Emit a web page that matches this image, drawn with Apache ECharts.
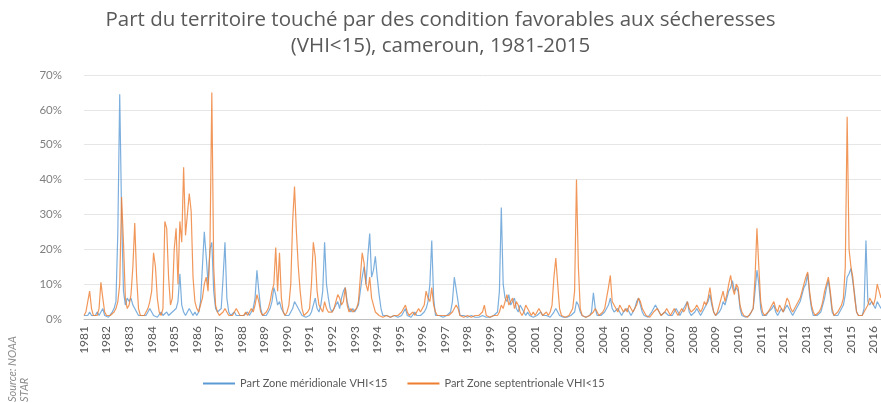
<!DOCTYPE html>
<html>
<head>
<meta charset="utf-8">
<script src="https://cdn.jsdelivr.net/npm/echarts@6/dist/echarts.min.js"></script>
<style>
  html, body { margin: 0; padding: 0; background: #fff; }
  #chart { width: 881px; height: 403px; }
</style>
</head>
<body>
<div id="chart"></div>
<script>
// annees affichees sur l'axe (un mois par categorie, jan 1981 -> mai 2016)
const years = [1981, 1982, 1983, 1984, 1985, 1986, 1987, 1988, 1989, 1990, 1991, 1992,
  1993, 1994, 1995, 1996, 1997, 1998, 1999, 2000, 2001, 2002, 2003, 2004, 2005, 2006,
  2007, 2008, 2009, 2010, 2011, 2012, 2013, 2014, 2015, 2016];
const lastYearMonths = 5;

const yTicks = [0, 10, 20, 30, 40, 50, 60, 70];

// Part Zone meridionale VHI<15 (%), valeurs mensuelles
const meridionale = [
  1, 0.5, 1, 2, 1, 0.5, 1, 2, 1, 2, 3, 1,           // 1981
  1, 0.5, 1, 2, 3, 5, 25, 64.5, 30, 8, 4, 6,        // 1982
  5, 6, 4, 3, 2, 1, 0.5, 1, 0.5, 1, 2, 3,           // 1983
  2, 1, 1, 0.5, 1, 2, 1, 1, 2, 1, 1, 2,             // 1984
  2, 3, 5, 13, 4, 2, 1, 2, 3, 2, 1, 2,              // 1985
  1, 2, 5, 15, 25, 18, 10, 20, 22, 8, 3, 2,         // 1986
  2, 3, 12, 22, 6, 2, 1, 1, 2, 1, 0.5, 1,           // 1987
  0.5, 1, 1, 2, 1, 2, 3, 6, 14, 8, 3, 1,            // 1988
  1, 1, 2, 3, 5, 9, 7, 4, 5, 3, 2, 1,               // 1989
  1, 1, 2, 3, 5, 4, 3, 2, 1, 1, 0.5, 1,             // 1990
  1, 2, 4, 6, 3, 2, 4, 8, 22, 10, 6, 3,             // 1991
  2, 3, 4, 5, 3, 6, 8, 9, 5, 3, 2, 3,               // 1992
  2, 2, 4, 8, 12, 15, 10, 18, 24.5, 12, 14, 18,     // 1993
  12, 7, 3, 1, 0.5, 1, 1, 0.5, 0.5, 1, 1, 0.5,      // 1994
  0.5, 1, 2, 3, 1, 1, 0.5, 1, 2, 1, 1, 1,           // 1995
  1, 2, 3, 5, 10, 22.5, 6, 1, 0.5, 1, 0.5, 0.5,     // 1996
  0.5, 1, 1, 2, 5, 12, 12.5, 5, 1, 0.5, 1, 0.5,     // 1997
  0.5, 0.5, 1, 0.5, 0.5, 1, 0.5, 0.5, 1, 1, 0.5, 0.5, // 1998
  0.5, 0.5, 1, 1, 2, 8, 32, 10, 6, 5, 7, 4,         // 1999
  5, 6, 3, 2, 4, 3, 2, 1, 2, 1, 1, 0.5,             // 2000
  0.5, 1, 1, 2, 1, 0.5, 1, 1, 0.5, 1, 2, 3,         // 2001
  2, 1, 0.5, 0.5, 1, 0.5, 0.5, 1, 1, 2, 5, 4,       // 2002
  2, 1, 0.5, 0.5, 1, 1, 2, 7.5, 3, 1, 0.5, 1,       // 2003
  1, 2, 3, 4, 6, 3, 2, 2, 3, 2, 1, 2,               // 2004
  2, 3, 2, 1, 2, 3, 5, 6, 4, 2, 1, 1,               // 2005
  0.5, 1, 2, 3, 4, 3, 2, 1, 1, 2, 2, 1,             // 2006
  1, 1, 2, 3, 2, 1, 2, 3, 4, 5, 2, 1,               // 2007
  1, 2, 3, 2, 1, 2, 3, 4, 5, 7, 4, 2,               // 2008
  1, 1, 2, 3, 5, 4, 6, 8, 9, 11, 8, 9,              // 2009
  8, 3, 1, 1, 0.5, 1, 1, 2, 3, 8, 14, 10,           // 2010
  3, 1, 0.5, 1, 2, 2, 3, 4, 2, 1, 2, 3,             // 2011
  2, 3, 4, 3, 2, 1, 2, 3, 4, 5, 7, 9,               // 2012
  10, 13, 7, 3, 1, 0.5, 1, 1, 2, 4, 6, 9,           // 2013
  11, 7, 2, 1, 0.5, 1, 2, 3, 4, 7, 12, 13,          // 2014
  14.5, 14, 7, 2, 1, 0.5, 1, 3, 22.5, 5, 4, 5,      // 2015
  4, 3, 5, 4, 3                                     // 2016
];

// Part Zone septentrionale VHI<15 (%), valeurs mensuelles
const septentrionale = [
  1, 2, 5, 8, 3, 1, 0.5, 1, 3, 10.5, 6, 2,          // 1981
  1, 0.5, 1, 1, 2, 3, 5, 10, 35, 22, 6, 3,          // 1982
  4, 7, 15, 27.5, 12, 3, 1, 0.5, 1, 2, 3, 5,        // 1983
  8, 19, 15, 6, 2, 1, 3, 28, 26, 12, 4, 6,          // 1984
  20, 26, 10, 28, 22, 43.5, 24, 30, 36, 31, 12, 5,  // 1985
  3, 2, 4, 6, 10, 12, 8, 20, 65, 15, 4, 2,          // 1986
  1, 1, 2, 3, 2, 1, 0.5, 1, 2, 3, 2, 1,             // 1987
  1, 1, 2, 1, 2, 3, 2, 4, 7, 5, 2, 1,               // 1988
  1, 2, 3, 5, 8, 10, 20.5, 8, 19, 6, 2, 1,          // 1989
  2, 4, 10, 28, 38, 25, 15, 8, 3, 1, 1, 2,          // 1990
  3, 10, 22, 18, 8, 4, 3, 2, 5, 3, 2, 2,            // 1991
  2, 3, 5, 7, 6, 4, 5, 9, 4, 2, 3, 2,               // 1992
  2, 3, 5, 12, 19, 16, 10, 8, 12, 6, 4, 2,          // 1993
  2, 1, 1, 0.5, 0.5, 1, 1, 0.5, 1, 1, 0.5, 1,       // 1994
  1, 2, 3, 4, 2, 1, 1, 2, 1, 2, 3, 2,               // 1995
  2, 4, 8, 6, 5, 9, 4, 2, 1, 1, 1, 1,               // 1996
  1, 0.5, 1, 1, 2, 3, 4, 3, 1, 1, 0.5, 1,           // 1997
  1, 0.5, 0.5, 1, 1, 0.5, 1, 1, 2, 4, 1, 0.5,       // 1998
  0.5, 0.5, 1, 0.5, 1, 2, 4, 3, 5, 7, 4, 5,         // 1999
  6, 3, 5, 4, 2, 1, 2, 4, 3, 2, 1, 2,               // 2000
  1, 2, 3, 2, 1, 1, 2, 1, 2, 4, 12, 17.5,           // 2001
  10, 3, 1, 1, 0.5, 1, 1, 2, 3, 8, 40, 15,          // 2002
  3, 1, 0.5, 0.5, 1, 1, 1, 2, 3, 2, 1, 1,           // 2003
  2, 3, 6, 9, 12.5, 5, 4, 3, 2, 4, 3, 2,            // 2004
  3, 2, 4, 3, 2, 3, 4, 6, 5, 3, 2, 1,               // 2005
  1, 0.5, 1, 2, 2, 3, 2, 1, 1, 2, 3, 2,             // 2006
  1, 2, 3, 2, 1, 2, 3, 2, 3, 5, 3, 2,               // 2007
  2, 3, 4, 3, 2, 3, 5, 4, 6, 9, 5, 2,               // 2008
  1, 2, 4, 6, 8, 5, 7, 10, 12.5, 9, 7, 10,          // 2009
  9, 4, 2, 1, 1, 0.5, 1, 2, 3, 12, 26, 15,          // 2010
  5, 2, 1, 1, 2, 3, 4, 5, 3, 2, 4, 3,               // 2011
  2, 4, 6, 5, 3, 2, 3, 4, 5, 6, 8, 10,              // 2012
  12, 13.5, 8, 4, 2, 1, 1, 2, 3, 5, 8, 10,          // 2013
  12, 8, 3, 1, 1, 2, 3, 4, 6, 15, 58, 20,           // 2014
  15, 12, 6, 2, 1, 0.5, 1, 2, 3, 4, 6, 5,           // 2015
  4, 6, 10, 8, 6                                    // 2016
];

// categories mois par mois construites a partir des annees
const months = [];
years.forEach((y, k) => {
  const n = k === years.length - 1 ? lastYearMonths : 12;
  for (let m = 1; m <= n; m++) months.push(y + '-' + (m < 10 ? '0' + m : m));
});

const blue = '#5B9BD5';
const orange = '#ED7D31';

const chart = echarts.init(document.getElementById('chart'));

const option = {
  animation: false,
  backgroundColor: '#fff',
  color: [blue, orange],
  title: {
    text: 'Part du territoire touché par des condition favorables aux sécheresses\n(VHI<15), cameroun, 1981-2015',
    left: 'center',
    top: 2,
    textStyle: {
      fontFamily: 'Open Sans',
      fontSize: 20.5,
      fontWeight: 'normal',
      color: '#595959',
      lineHeight: 26
    }
  },
  legend: {
    bottom: 9,
    left: 198,
    itemGap: 20,
    itemWidth: 32,
    itemHeight: 2,
    textStyle: { fontFamily: 'Lato', fontSize: 11, color: '#595959' },
    data: [
      { name: 'Part Zone méridionale VHI<15', icon: 'rect', itemStyle: { color: blue } },
      { name: 'Part Zone septentrionale VHI<15', icon: 'rect', itemStyle: { color: orange } }
    ]
  },
  grid: { left: 84, right: 0, top: 75, bottom: 84 },
  xAxis: {
    type: 'category',
    boundaryGap: false,
    data: months,
    axisLine: { lineStyle: { color: '#bfbfbf' } },
    axisTick: { show: false },
    axisLabel: {
      rotate: 90,
      interval: (idx) => idx % 12 === 0,
      formatter: (v) => v.slice(0, 4),
      fontFamily: 'Lato',
      fontSize: 12,
      color: '#595959',
      margin: 7
    },
    splitLine: { show: false }
  },
  yAxis: {
    type: 'value',
    min: 0,
    max: yTicks[yTicks.length - 1],
    interval: 10,
    axisLine: { show: false },
    axisTick: { show: false },
    axisLabel: {
      formatter: '{value}%',
      fontFamily: 'Lato',
      fontSize: 11.5,
      color: '#7f7f7f',
      margin: 22
    },
    splitLine: { lineStyle: { color: '#e6e6e6' } }
  },
  series: [
    {
      name: 'Part Zone méridionale VHI<15',
      type: 'line',
      data: meridionale,
      showSymbol: false,
      itemStyle: { color: blue },
      lineStyle: { color: blue, width: 1.2, opacity: 0.8 }
    },
    {
      name: 'Part Zone septentrionale VHI<15',
      type: 'line',
      data: septentrionale,
      showSymbol: false,
      itemStyle: { color: orange },
      lineStyle: { color: orange, width: 1.2, opacity: 0.8 }
    }
  ],
  graphic: [
    {
      type: 'text',
      x: 6,
      y: 402,
      rotation: Math.PI / 2,
      style: {
        text: 'Source: NOAA\nSTAR',
        x: 0,
        y: 0,
        textAlign: 'left',
        textVerticalAlign: 'top',
        font: 'italic 11px Lato',
        fill: '#8c8c8c',
        lineHeight: 12
      }
    }
  ]
};

chart.setOption(option);
</script>
</body>
</html>
